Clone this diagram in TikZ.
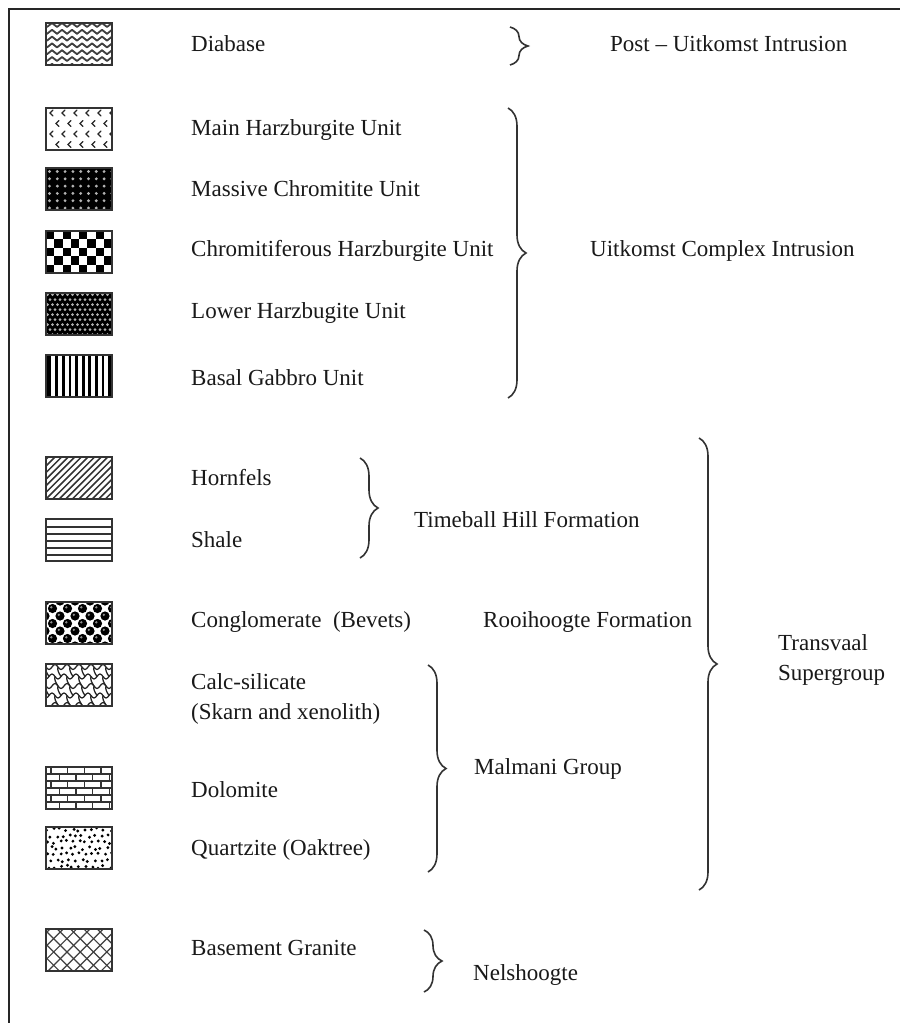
\documentclass[tikz,border=0pt]{standalone}
\usepackage{fontspec}
\setmainfont{Liberation Serif}
\usetikzlibrary{decorations.pathreplacing}

\tikzset{
 lab/.style={anchor=west, inner sep=0pt, font=\fontsize{23}{28}\selectfont, text=black!90},
 swatch/.style={minimum width=66pt, minimum height=42pt, inner sep=0pt, draw=black!80, line width=1.8pt},
 brc/.style={decorate, decoration={brace, amplitude=18pt}, line width=1.6pt, draw=black!80},
}

\newcommand\sw[3]{%
 \begin{scope}
  \clip (46,{#2-21}) rectangle (112,{#2+21});
  \fill[white] (46,{#2-21}) rectangle (112,{#2+21});
  \begin{scope}[shift={(46,{#2-21})}]#3\end{scope}
 \end{scope}
 \node[swatch] (#1) at (79,#2) {};}

\newcommand\pDiabase{%
 \foreach \r in {0,...,6}{\draw[line width=1.8pt,black!75,line join=round] (-4,{0+6.8*\r}) \foreach \k in {0,...,7}{ -- ++(5,4) -- ++(5,-4)};}}
\newcommand\pMainHz{%
 \foreach \i in {0,...,5}{\foreach \j in {0,...,3}{%
  \pgfmathsetmacro\xx{\i*12+mod(\j,2)*6+4}\pgfmathsetmacro\yy{\j*10.5+5}%
  \draw[line width=1.2pt,black!85,line cap=round] (\xx+3,\yy-3) -- (\xx,\yy) -- (\xx+3,\yy+3);}}}
\newcommand\pMassive{%
 \fill[black] (0,0) rectangle (66,42);
 \foreach \i in {0,...,8}{\foreach \j in {0,...,5}{\fill[black!30] ({\i*7.8+3.5},{\j*7.3+3.5}) circle (1.6);}}}
\newcommand\pChecker{%
 \foreach \i in {0,...,7}{\foreach \j in {0,...,4}{%
  \pgfmathparse{int(mod(\i+\j,2))}%
  \ifnum\pgfmathresult=0 \fill[black] ({\i*8.25},{\j*8.4}) rectangle ++(8.25,8.4);\fi}}}
\newcommand\pLower{%
 \fill[black] (0,0) rectangle (66,42);
 \foreach \i in {0,...,13}{\foreach \j in {0,...,8}{\fill[black!30] ({\i*5+1.5+mod(\j,2)*2.5},{\j*5+1.5}) circle (1.5);}}}
\newcommand\pGabbro{%
 \fill[black] (0,0) rectangle (5,42);
 \foreach \i in {1,...,9}{\fill[black] ({4+6.6*\i-1.3},0) rectangle ++(2.8,42);}}
\newcommand\pHornfels{%
 \foreach \i in {-8,...,11}{\draw[line width=1.5pt,black!80] ({\i*6.6},42) -- ++(42,-42);}}
\newcommand\pShale{%
 \foreach \yv in {8,15,22,29,36}{\draw[line width=1.8pt,black!80] (0,\yv) -- (66,\yv);}}
\newcommand\pCongl{%
 \foreach \j in {0,...,6}{\foreach \i in {0,...,5}{%
   \pgfmathsetmacro\xx{\i*15+mod(\j,2)*7.5-1}\pgfmathsetmacro\yy{\j*7.5-1}%
   \fill[black] (\xx,\yy) circle (4.6); \fill[black!45] (\xx-1.2,\yy-1.2) circle (1.3);}}}
\newcommand\pCalc{%
 \foreach \r in {0,...,4}{%
  \draw[line width=1.3pt,black!85] ({-6-3*mod(\r,2)},{3+9.5*\r}) \foreach \k in {0,...,6}{ sin ++(3,-2.5) cos ++(3,2.5) sin ++(3,2.5) cos ++(3,-2.5)};
  \foreach \k in {0,...,6}{\draw[line width=1.3pt,black!85] ({\k*12-3*mod(\r,2)},{3+9.5*\r}) .. controls ++(-1,3) and ++(-2,-3) .. ++(3,9.5);}}}
\newcommand\pDolo{%
 \foreach \j in {1,...,5}{\draw[line width=1.5pt,black!80] (0,{\j*7}) -- (66,{\j*7});}
 \foreach \j in {0,...,5}{\foreach \k in {0,...,4}{\draw[line width=1.5pt,black!80] ({\k*16.7+mod(\j,2)*8.3+5},{\j*7}) -- ++(0,7);}}}
\newcommand\pQuartz{%
 \pgfmathsetseed{12}%
 \foreach \i in {0,...,10}{\foreach \j in {0,...,6}{%
   \pgfmathsetmacro\xx{\i*6.3+mod(\j,2)*3+1.5+1.6*rand}\pgfmathsetmacro\yy{\j*6.2+2.5+1.6*rand}%
   \fill[black] (\xx,\yy) circle (1.6);}}}
\newcommand\pGranite{%
 \foreach \i in {-4,...,10}{\draw[line width=1.2pt,black!75] ({\i*13.3-2},0) -- ++(42,42); \draw[line width=1.2pt,black!75] ({\i*13.3+4},0) -- ++(-42,42);}}

\begin{document}
\begin{tikzpicture}[x=1pt,y=-1pt]
\useasboundingbox (0,0) rectangle (900,1023);
\fill[white] (0,0) rectangle (900,1023);
\draw[line width=2.2pt, black!85] (9,1023) -- (9,9) -- (900,9);

% swatches
\sw{s1}{44}{\pDiabase}
\sw{s2}{129}{\pMainHz}
\sw{s3}{189}{\pMassive}
\sw{s4}{252}{\pChecker}
\sw{s5}{314}{\pLower}
\sw{s6}{376}{\pGabbro}
\sw{s7}{478}{\pHornfels}
\sw{s8}{540}{\pShale}
\sw{s9}{623}{\pCongl}
\sw{s10}{685}{\pCalc}
\sw{s11}{788}{\pDolo}
\sw{s12}{848}{\pQuartz}
\sw{s13}{950}{\pGranite}

% labels
\node[lab] (t1) at (191,44) {Diabase};
\node[lab] (t2) at (191,130) {Main Harzburgite Unit};
\node[lab] (t3) at (191,189) {Massive Chromitite Unit};
\node[lab] (t4) at (191,251) {Chromitiferous Harzburgite Unit};
\node[lab] (t5) at (191,313) {Lower Harzbugite Unit};
\node[lab] (t6) at (191,378) {Basal Gabbro Unit};
\node[lab] (t7) at (191,478) {Hornfels};
\node[lab] (t8) at (191,540) {Shale};
\node[lab] (t9) at (191,622) {Conglomerate\ \ (Bevets)};
\node[lab, align=left, font=\fontsize{23}{30}\selectfont] (t10) at (191,699) {Calc-silicate\\(Skarn and xenolith)};
\node[lab] (t11) at (191,790) {Dolomite};
\node[lab] (t12) at (191,850) {Quartzite (Oaktree)};
\node[lab] (t13) at (191,948) {Basement Granite};

% braces
\coordinate (b1a) at (510,27);  \coordinate (b1b) at (510,65);
\coordinate (b2a) at (508,108); \coordinate (b2b) at (508,398);
\coordinate (b3a) at (360,458); \coordinate (b3b) at (360,558);
\coordinate (b4a) at (428,665); \coordinate (b4b) at (428,872);
\coordinate (b5a) at (699,438); \coordinate (b5b) at (699,890);
\coordinate (b6a) at (424,930); \coordinate (b6b) at (424,992);
\draw[brc] (b1a) -- (b1b);
\draw[brc] (b2a) -- (b2b);
\draw[brc] (b3a) -- (b3b);
\draw[brc] (b4a) -- (b4b);
\draw[brc] (b5a) -- (b5b);
\draw[brc] (b6a) -- (b6b);

% group labels
\node[lab] (g1) at (610,44) {Post -- Uitkomst Intrusion};
\node[lab] (g2) at (590,251) {Uitkomst Complex Intrusion};
\node[lab] (g3) at (414,520) {Timeball Hill Formation};
\node[lab] (g4) at (483,622) {Rooihoogte Formation};
\node[lab] (g5) at (474,769) {Malmani Group};
\node[lab, align=left, font=\fontsize{23}{30}\selectfont] (g6) at (778,660) {Transvaal\\Supergroup};
\node[lab] (g7) at (473,975) {Nelshoogte};
\end{tikzpicture}
\end{document}
